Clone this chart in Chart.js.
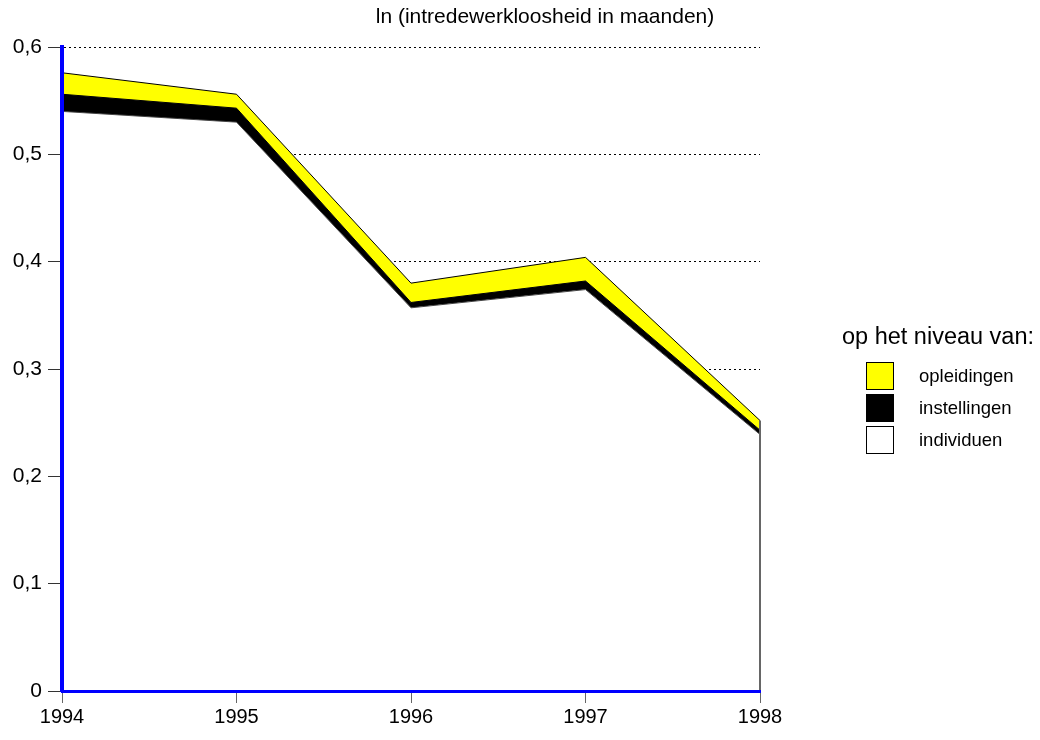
<!DOCTYPE html>
<html>
<head>
<meta charset="utf-8">
<title>ln intredewerkloosheid</title>
<script src="https://cdn.jsdelivr.net/npm/chart.js@4"></script>
<style>
  body { margin: 0; background: #fff; }
  #wrap { width: 1040px; height: 740px; }
</style>
</head>
<body>
<div id="wrap"><canvas id="myChart" width="1040" height="740"></canvas></div>
<script>
// jaren en waarden (ln intredewerkloosheid), gestapeld
var years = ['1994', '1995', '1996', '1997', '1998'];
var individuen = [0.540, 0.530, 0.357, 0.374, 0.239];
var instellingen = [0.016, 0.013, 0.005, 0.008, 0.004];
var opleidingen = [0.020, 0.013, 0.018, 0.022, 0.009];
var yTicks = [0, 0.1, 0.2, 0.3, 0.4, 0.5, 0.6];

var FONT = "'Liberation Sans', Arial, sans-serif";
Chart.defaults.font.family = FONT;
Chart.defaults.color = '#000';

// dunne lijn langs de rechterrand (1998) van het vlak
var edgeLine = {
  id: 'edgeLine',
  afterDatasetsDraw: function(chart) {
    var x = chart.scales.x, y = chart.scales.y;
    var last = years.length - 1;
    var top = individuen[last] + instellingen[last] + opleidingen[last];
    var ctx = chart.ctx;
    ctx.save();
    ctx.strokeStyle = '#666';
    ctx.lineWidth = 2;
    ctx.beginPath();
    ctx.moveTo(x.getPixelForValue(last), y.getPixelForValue(0));
    ctx.lineTo(x.getPixelForValue(last), y.getPixelForValue(top));
    ctx.stroke();
    ctx.restore();
  }
};

// titel boven de grafiek en legenda rechts ervan
var sideText = {
  id: 'sideText',
  afterDraw: function(chart, args, opts) {
    var area = chart.chartArea;
    var ctx = chart.ctx;
    ctx.save();
    ctx.fillStyle = '#000';
    ctx.textBaseline = 'middle';
    ctx.textAlign = 'center';
    ctx.font = '21px ' + FONT;
    ctx.fillText(opts.title, area.left + 483, area.top - 30);

    ctx.font = '23.5px ' + FONT;
    ctx.fillText(opts.legendTitle, area.right + 178, area.top + 291);

    ctx.font = '18.5px ' + FONT;
    ctx.textAlign = 'left';
    var sets = chart.data.datasets.slice().reverse();
    sets.forEach(function(ds, i) {
      var bx = area.right + 106.5;
      var by = area.top + 315.5 + i * 32;
      ctx.fillStyle = ds.backgroundColor;
      ctx.fillRect(bx, by, 27, 27);
      ctx.strokeStyle = '#000';
      ctx.lineWidth = 1;
      ctx.strokeRect(bx, by, 27, 27);
      ctx.fillStyle = '#000';
      ctx.fillText(ds.label, area.right + 159, by + 14);
    });
    ctx.restore();
  }
};

function fmt(v) {
  if (v === 0) return '0';
  return v.toFixed(1).replace('.', ',');
}

var ctx = document.getElementById('myChart');
var myChart = new Chart(ctx, {
  type: 'line',
  data: {
    labels: years,
    datasets: [{
      label: 'individuen',
      data: individuen,
      backgroundColor: '#ffffff',
      borderColor: '#444',
      borderWidth: 1,
      fill: 'origin'
    }, {
      label: 'instellingen',
      data: instellingen,
      backgroundColor: '#000000',
      borderColor: '#000000',
      borderWidth: 1,
      fill: '-1'
    }, {
      label: 'opleidingen',
      data: opleidingen,
      backgroundColor: '#ffff00',
      borderColor: '#000000',
      borderWidth: 1,
      fill: '-1'
    }]
  },
  options: {
    responsive: false,
    animation: false,
    devicePixelRatio: 1,
    elements: { point: { radius: 0 }, line: { tension: 0 } },
    layout: { padding: { left: 0, right: 280, top: 47, bottom: 9 } },
    scales: {
      x: {
        type: 'category',
        grid: { drawOnChartArea: false, tickLength: 12, tickWidth: 1, tickColor: '#666', color: '#666' },
        border: { color: '#0000ff', width: 3, z: 1 },
        ticks: { font: { size: 20 }, padding: 2, maxRotation: 0 }
      },
      y: {
        stacked: true,
        min: 0,
        max: 0.6,
        afterFit: function(scale) { scale.width = 62; },
        afterBuildTicks: function(scale) {
          scale.ticks = yTicks.map(function(v) { return { value: v }; });
        },
        grid: { color: '#000', lineWidth: 1, tickLength: 14, tickWidth: 1, tickColor: '#333', tickBorderDash: [] },
        border: { color: '#0000ff', width: 4, dash: [2, 3], z: 1 },
        ticks: { font: { size: 21 }, padding: 6, callback: function(v) { return fmt(v); } }
      }
    },
    plugins: {
      title: { display: false },
      legend: { display: false },
      tooltip: { enabled: false },
      sideText: {
        title: 'ln (intredewerkloosheid in maanden)',
        legendTitle: 'op het niveau van:'
      }
    }
  },
  plugins: [edgeLine, sideText]
});
</script>
</body>
</html>
